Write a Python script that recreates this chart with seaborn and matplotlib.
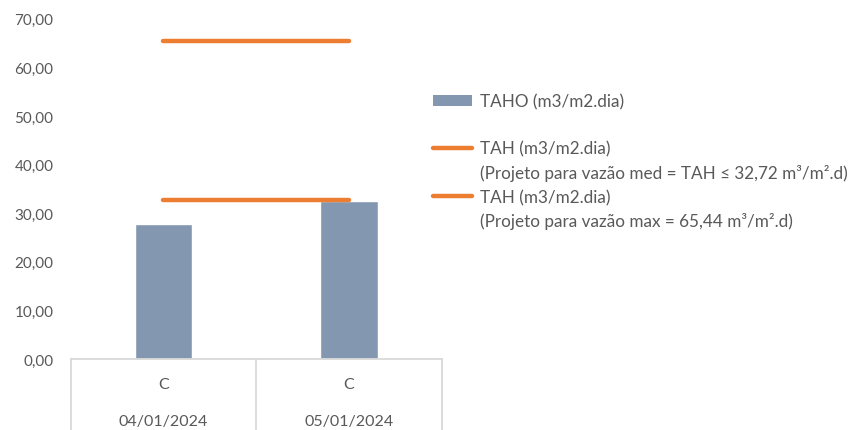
import numpy as np
import matplotlib.pyplot as plt
import seaborn as sns
import pandas as pd
from matplotlib.patches import Patch
from matplotlib.lines import Line2D

# chart data
dates = ['04/01/2024', '05/01/2024']
groups = ['C', 'C']
taho = [27.7, 32.5]
tah_med = [32.72, 32.72]
tah_max = [65.44, 65.44]
y_ticks = [0, 10, 20, 30, 40, 50, 60, 70]

bar_color = '#8497B0'
line_color = '#ED7D31'
text_color = '#595959'
axis_color = '#D9D9D9'


def main():
    sns.set_style('white')
    plt.rcParams['font.family'] = ['Lato', 'DejaVu Sans']

    fig = plt.figure(figsize=(8.51, 4.31), dpi=100)
    ax = fig.add_axes([70.7 / 851, 71 / 431, 371 / 851, 340.3 / 431])

    df = pd.DataFrame({'date': dates, 'taho': taho})
    sns.barplot(data=df, x='date', y='taho', color=bar_color, width=0.311,
                saturation=1, ax=ax)

    pos = np.arange(len(dates))
    sns.lineplot(x=pos, y=tah_med, color=line_color, linewidth=3.2, ax=ax,
                 solid_capstyle='round')
    sns.lineplot(x=pos, y=tah_max, color=line_color, linewidth=3.2, ax=ax,
                 solid_capstyle='round')

    ax.set_xlim(-0.5, len(dates) - 0.5)
    ax.set_ylim(0, 70)
    ax.set_yticks(y_ticks)
    ax.set_yticklabels([f'{v:.2f}'.replace('.', ',') for v in y_ticks])
    ax.tick_params(axis='y', length=0, pad=12.5, labelsize=11, labelcolor=text_color)
    ax.set_xticks([])
    ax.set_xlabel('')
    ax.set_ylabel('')

    for side in ['left', 'right', 'top']:
        ax.spines[side].set_visible(False)
    ax.spines['bottom'].set_color(axis_color)
    ax.spines['bottom'].set_linewidth(1.3)

    # multi-level category axis
    trans = ax.get_xaxis_transform()
    for b in np.arange(-0.5, len(dates), 1.0):
        ax.plot([b, b], [0, -0.21], transform=trans, color=axis_color,
                linewidth=1.3, clip_on=False)
    for i, (g, d) in enumerate(zip(groups, dates)):
        ax.text(i, -25.5 / 340.3, g, transform=trans, ha='center', va='center',
                fontsize=11.5, color=text_color)
        ax.text(i, -62.5 / 340.3, d, transform=trans, ha='center', va='center',
                fontsize=11.5, color=text_color)

    # legend
    blank = Line2D([], [], linestyle='none')
    handles = [Patch(facecolor=bar_color, edgecolor='none'), blank,
               Line2D([], [], color=line_color, linewidth=3.2, solid_capstyle='round'), blank,
               Line2D([], [], color=line_color, linewidth=3.2, solid_capstyle='round'), blank]
    labels = ['TAHO (m3/m2.dia)', ' ',
              'TAH (m3/m2.dia)', '(Projeto para vazão med = TAH ≤ 32,72 m³/m².d)',
              'TAH (m3/m2.dia)', '(Projeto para vazão max = 65,44 m³/m².d)']
    leg = ax.legend(handles, labels, loc='upper left', frameon=False,
                    bbox_to_anchor=(433 / 851, 1 - 94.5 / 431),
                    bbox_transform=fig.transFigure, borderpad=0, borderaxespad=0,
                    handlelength=2.3, handleheight=0.55, handletextpad=0.45,
                    labelspacing=0.44, fontsize=12.3)
    for t in leg.get_texts():
        t.set_color(text_color)

    fig.savefig('out.png', dpi=100)
    plt.close(fig)


if __name__ == '__main__':
    main()
